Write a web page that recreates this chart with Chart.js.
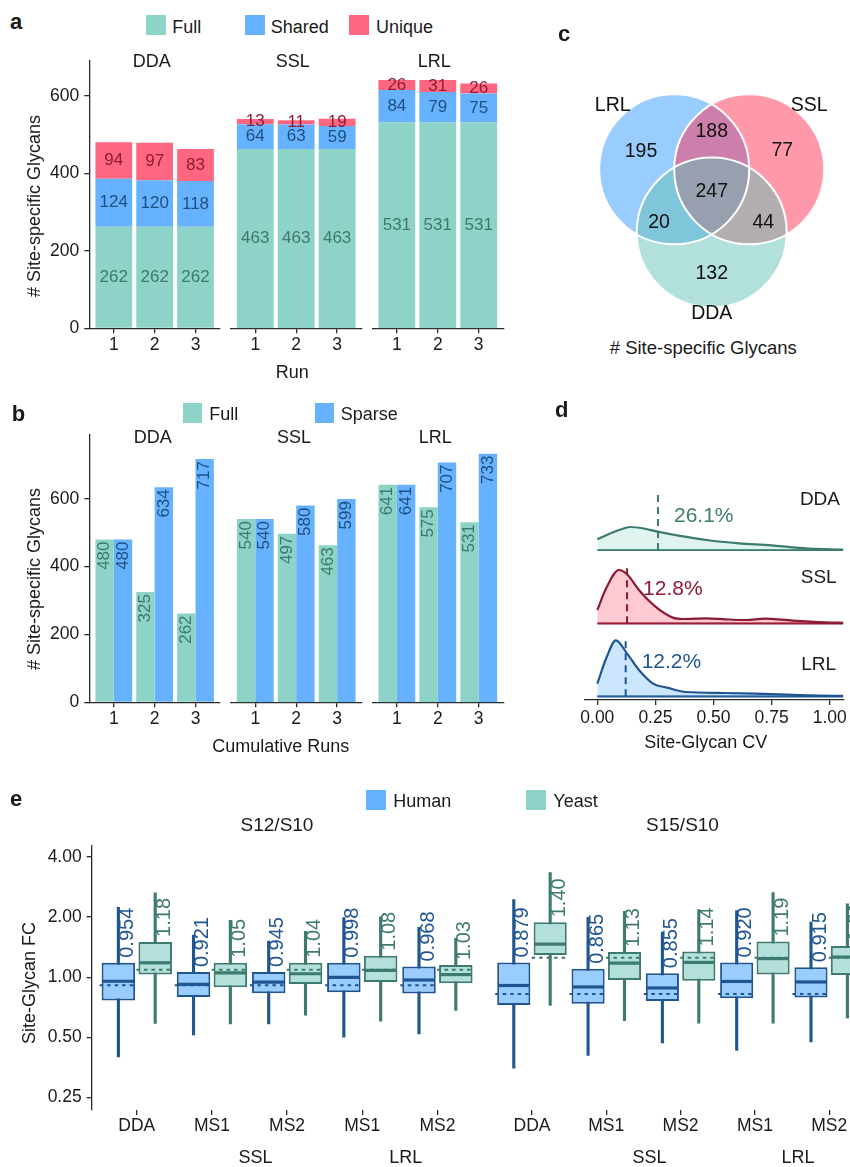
<!DOCTYPE html>
<html>
<head>
<meta charset="utf-8">
<title>Site-specific glycan identification and quantification</title>
<script src="https://cdn.jsdelivr.net/npm/chart.js@4.4.1/dist/chart.umd.min.js"></script>
<style>
  html, body { margin: 0; padding: 0; background: #ffffff; }
  body { position: relative; width: 850px; height: 1167px; overflow: hidden;
         font-family: 'Liberation Sans', Arial, Helvetica, sans-serif; }
  canvas { position: absolute; }
</style>
</head>
<body>
<script>
// ======================= DATA =======================
const methods   = ['DDA', 'SSL', 'LRL'];
const runLabels = ['1', '2', '3'];
const countTicks = [0, 200, 400, 600];

// panel a : identifications per run (per method: run1, run2, run3)
const aFull   = [[262, 262, 262], [463, 463, 463], [531, 531, 531]];
const aShared = [[124, 120, 118], [64, 63, 59], [84, 79, 75]];
const aUnique = [[94, 97, 83], [13, 11, 19], [26, 31, 26]];

// panel b : cumulative runs
const bFull   = [[480, 325, 262], [540, 497, 463], [641, 575, 531]];
const bSparse = [[480, 634, 717], [540, 580, 599], [641, 707, 733]];

// panel c : Venn diagram
const vennSets   = ['LRL', 'SSL', 'DDA'];
const vennRegions = ['LRL only', 'LRL & SSL', 'SSL only', 'all three', 'LRL & DDA', 'SSL & DDA', 'DDA only'];
const vennCounts = [195, 188, 77, 247, 20, 44, 132];

// panel d : CV density ridges
const ridgeNames = ['DDA', 'SSL', 'LRL'];
const cvTicks = [0, 0.25, 0.5, 0.75, 1.0];
const ddaCv      = [0, 0.05, 0.1, 0.14, 0.2, 0.26, 0.35, 0.47, 0.61, 0.75, 0.84, 0.92, 1.0, 1.06];
const ddaDensity = [1.07, 1.6, 2.05, 2.3, 2.15, 1.83, 1.43, 1.0, 0.67, 0.47, 0.27, 0.13, 0.07, 0.04];
const sslCv      = [0, 0.04, 0.093, 0.128, 0.18, 0.25, 0.325, 0.37, 0.47, 0.55, 0.64, 0.72, 0.84, 0.98, 1.06];
const sslDensity = [1.33, 3.6, 5.33, 4.9, 3.3, 1.67, 0.57, 0.43, 0.5, 0.4, 0.33, 0.47, 0.27, 0.1, 0.05];
const lrlCv      = [0, 0.04, 0.08, 0.128, 0.18, 0.24, 0.3, 0.38, 0.55, 0.68, 0.9, 1.06];
const lrlDensity = [1.27, 3.9, 5.6, 4.27, 2.6, 1.27, 0.87, 0.43, 0.33, 0.27, 0.1, 0.04];
const cvMedians  = [0.261, 0.128, 0.122];

// panel e : fold-change boxplots (per ratio: DDA, SSL-MS1, SSL-MS2, LRL-MS1, LRL-MS2)
const ratios  = ['S12/S10', 'S15/S10'];
const eCats   = ['DDA', 'MS1', 'MS2', 'MS1', 'MS2'];
const eGroups = ['SSL', 'LRL'];
const fcTicks = [0.25, 0.5, 1, 2, 4];
const humanLow  = [[0.398, 0.513, 0.581, 0.500, 0.519], [0.346, 0.399, 0.459, 0.422, 0.464]];
const humanQ1   = [[0.764, 0.796, 0.832, 0.841, 0.829], [0.706, 0.716, 0.738, 0.761, 0.769]];
const humanMed  = [[0.954, 0.921, 0.945, 0.998, 0.968], [0.879, 0.865, 0.855, 0.920, 0.915]];
const humanQ3   = [[1.18, 1.06, 1.06, 1.18, 1.13], [1.14, 1.06, 1.01, 1.14, 1.08]];
const humanHigh = [[2.24, 1.63, 1.52, 1.99, 1.78], [2.32, 1.90, 1.61, 2.05, 1.80]];
const yeastLow  = [[0.585, 0.581, 0.643, 0.601, 0.680], [0.700, 0.590, 0.574, 0.574, 0.608]];
const yeastQ1   = [[1.03, 0.890, 0.924, 0.945, 0.931], [1.24, 0.935, 0.928, 0.996, 0.989]];
const yeastMed  = [[1.18, 1.05, 1.04, 1.08, 1.03], [1.40, 1.13, 1.14, 1.19, 1.21]];
const yeastQ3   = [[1.50, 1.18, 1.18, 1.28, 1.15], [1.79, 1.28, 1.29, 1.44, 1.37]];
const yeastHigh = [[2.65, 1.93, 1.70, 2.01, 1.57], [3.14, 2.03, 2.07, 2.51, 2.21]];
const expectedHuman = [0.91, 0.80];
const expectedYeast = [1.09, 1.20];

// ======================= STYLE =======================
const FONT = "'Liberation Sans', Arial, Helvetica, sans-serif";
const INK = '#1a1a1a', AXC = '#2a2a2a';
const C_FULL = '#8DD3C7', C_SHARED = '#66B2FF', C_UNIQUE = '#FF6680';
const L_FULL = '#3F786E', L_SHARED = '#1E4F82', L_UNIQUE = '#8E1C36';
const HUMAN_FILL = '#99CCFF', HUMAN_LINE = '#1F5591';
const YEAST_FILL = '#B3E0DA', YEAST_LINE = '#3D7A70';
const RIDGE_LINE = ['#3D7A70', '#8B1A32', '#1F5591'];
const RIDGE_FILL = ['rgba(141,211,199,0.28)', 'rgba(255,102,128,0.35)', 'rgba(102,178,255,0.33)'];

Chart.defaults.font.family = FONT;
Chart.defaults.color = INK;
Chart.defaults.animation = false;
Chart.defaults.events = [];
Chart.defaults.plugins.legend.display = false;
Chart.defaults.plugins.tooltip.enabled = false;

// ======================= HELPERS =======================
function addCanvas(left, top, w, h) {
  const c = document.createElement('canvas');
  c.width = w; c.height = h;
  c.style.left = left + 'px'; c.style.top = top + 'px';
  c.style.width = w + 'px'; c.style.height = h + 'px';
  document.body.appendChild(c);
  return c;
}
function addText(str, x, y, o = {}) {
  const d = document.createElement('div');
  d.textContent = str;
  const size = o.size || 18;
  let tf = o.align === 'left' ? 'translate(0,-50%)' : o.align === 'right' ? 'translate(-100%,-50%)' : 'translate(-50%,-50%)';
  if (o.rot) tf += ' rotate(' + o.rot + 'deg)';
  d.style.cssText = 'position:absolute;left:' + x + 'px;top:' + y + 'px;font-size:' + size +
    'px;line-height:1;white-space:nowrap;color:' + (o.color || INK) + ';font-weight:' + (o.weight || 'normal') +
    ';transform:' + tf + ';font-family:' + FONT + ';';
  document.body.appendChild(d);
}
function addSquare(x, y, s, color) {
  const d = document.createElement('div');
  d.style.cssText = 'position:absolute;left:' + x + 'px;top:' + y + 'px;width:' + s + 'px;height:' + s + 'px;background:' + color + ';';
  document.body.appendChild(d);
}
function tickGrid() {
  return { display: true, drawOnChartArea: false, drawTicks: true, tickLength: 5, color: AXC, tickColor: AXC, lineWidth: 1.3, tickWidth: 1.3, offset: false };
}

// ---------- faceted bar chart (panels a, b) ----------
function facetBarChart(o) {
  const cl = o.withY ? 0 : Math.floor(o.left - 4);
  const cr = Math.ceil(o.right + 3);
  const canvas = addCanvas(cl, o.canvasTop, cr - cl, o.canvasBottom - o.canvasTop);
  const yW = o.left - cl;
  const yScale = {
    display: o.withY, min: 0, max: o.yMax, stacked: o.stacked,
    afterBuildTicks: s => { s.ticks = countTicks.map(v => ({ value: v })); },
    ticks: { font: { size: 17.5 }, color: INK, padding: 5 },
    grid: tickGrid(),
    border: { display: true, color: AXC, width: 1.3 }
  };
  if (o.withY) yScale.afterFit = s => { s.width = yW; };
  return new Chart(canvas, {
    type: 'bar',
    data: { datasets: o.datasets },
    options: {
      responsive: false,
      layout: { autoPadding: false, padding: { left: o.withY ? 0 : yW, right: cr - o.right, top: o.top - o.canvasTop, bottom: 0 } },
      datasets: { bar: { categoryPercentage: o.catPct, barPercentage: o.barPct } },
      scales: {
        x: {
          type: 'linear', min: 0.4, max: 3.6, offset: false, stacked: o.stacked,
          afterBuildTicks: s => { s.ticks = runLabels.map((_, i) => ({ value: i + 1 })); },
          afterFit: s => { s.height = o.canvasBottom - o.bottom; },
          ticks: { callback: v => runLabels[v - 1], font: { size: 17.5 }, color: INK, padding: 1, maxRotation: 0, autoSkip: false },
          grid: tickGrid(),
          border: { display: true, color: AXC, width: 1.3 }
        },
        y: yScale
      }
    },
    plugins: [o.labelPlugin]
  });
}

const stackLabels = colors => ({
  id: 'stackLabels',
  afterDatasetsDraw(chart) {
    const ctx = chart.ctx;
    ctx.save();
    ctx.font = '17px ' + FONT; ctx.textAlign = 'center'; ctx.textBaseline = 'middle';
    chart.data.datasets.forEach((ds, di) => {
      chart.getDatasetMeta(di).data.forEach((el, i) => {
        ctx.fillStyle = colors[di];
        ctx.fillText(String(ds.data[i].y), el.x, (el.y + el.base) / 2);
      });
    });
    ctx.restore();
  }
});
const rotatedLabels = colors => ({
  id: 'rotatedLabels',
  afterDatasetsDraw(chart) {
    const ctx = chart.ctx;
    chart.data.datasets.forEach((ds, di) => {
      chart.getDatasetMeta(di).data.forEach((el, i) => {
        ctx.save();
        ctx.translate(el.x, el.y + 2);
        ctx.rotate(-Math.PI / 2);
        ctx.font = '17px ' + FONT; ctx.textAlign = 'right'; ctx.textBaseline = 'middle';
        ctx.fillStyle = colors[di];
        ctx.fillText(String(ds.data[i].y), 0, 0);
        ctx.restore();
      });
    });
  }
});

const facetLeft  = [89.3, 230.7, 372.3];
const facetRight = [220, 361.7, 503.3];

// ======================= PANEL A =======================
methods.forEach((m, k) => {
  const pts = arr => arr[k].map((v, i) => ({ x: i + 1, y: v }));
  facetBarChart({
    left: facetLeft[k], right: facetRight[k], top: 61, bottom: 328.3,
    canvasTop: 40, canvasBottom: 386, withY: k === 0, yMax: 690, stacked: true,
    catPct: 1.0, barPct: 0.9,
    datasets: [
      { label: 'Full',   data: pts(aFull),   backgroundColor: C_FULL },
      { label: 'Shared', data: pts(aShared), backgroundColor: C_SHARED },
      { label: 'Unique', data: pts(aUnique), backgroundColor: C_UNIQUE }
    ],
    labelPlugin: stackLabels([L_FULL, L_SHARED, L_UNIQUE])
  });
});
addText('a', 10, 21.7, { size: 22, weight: 'bold', align: 'left' });
addSquare(146, 15, 19.7, C_FULL);   addText('Full',   172.3, 26.5, { align: 'left' });
addSquare(245, 15, 19.7, C_SHARED); addText('Shared', 270.7, 26.5, { align: 'left' });
addSquare(349.3, 15, 19.7, C_UNIQUE); addText('Unique', 376, 26.5, { align: 'left' });
[151.7, 292.7, 434.3].forEach((x, k) => addText(methods[k], x, 61));
addText('# Site-specific Glycans', 34, 205.8, { rot: -90 });
addText('Run', 292.3, 371.7);

// ======================= PANEL B =======================
methods.forEach((m, k) => {
  const pts = arr => arr[k].map((v, i) => ({ x: i + 1, y: v }));
  facetBarChart({
    left: facetLeft[k], right: facetRight[k], top: 435, bottom: 702.3,
    canvasTop: 414, canvasBottom: 760, withY: k === 0, yMax: 788, stacked: false,
    catPct: 0.9, barPct: 1.0,
    datasets: [
      { label: 'Full',   data: pts(bFull),   backgroundColor: C_FULL },
      { label: 'Sparse', data: pts(bSparse), backgroundColor: C_SHARED }
    ],
    labelPlugin: rotatedLabels([L_FULL, L_SHARED])
  });
});
addText('b', 11.7, 414, { size: 22, weight: 'bold', align: 'left' });
addSquare(183, 403.3, 19.3, C_FULL);   addText('Full',   209.3, 414, { align: 'left' });
addSquare(314.7, 403.3, 19.3, C_SHARED); addText('Sparse', 340.7, 414, { align: 'left' });
[152.7, 294, 435.3].forEach((x, k) => addText(methods[k], x, 436.7));
addText('# Site-specific Glycans', 34, 579, { rot: -90 });
addText('Cumulative Runs', 280.8, 746);

// ======================= PANEL C (Venn) =======================
const vennCx = [-0.5, 0.5, 0];
const vennCy = [0.421, 0.421, -0.421];
const vennRadius = 1;
const V_XMIN = -2.023, V_XMAX = 1.844, V_YMIN = -1.721, V_YMAX = 2.145, V_W = 290, V_H = 290;
const vennRadiusPx = vennRadius * V_W / (V_XMAX - V_XMIN);
const vennFill = ['rgba(51,153,255,0.5)', 'rgba(255,51,85,0.5)', 'rgba(101,193,181,0.5)'];
const regionPos = [[-0.943, 0.656], [0, 0.923], [0.941, 0.669], [0, 0.123], [-0.703, -0.291], [0.688, -0.291], [0, -0.975]];
const setLabelPos = [[-1.32, 1.265], [1.301, 1.265], [0, -1.499]];
const vennLabels = {
  id: 'vennLabels',
  afterDatasetsDraw(chart) {
    const { ctx, scales: { x, y } } = chart;
    ctx.save();
    ctx.fillStyle = '#111'; ctx.font = '19.5px ' + FONT; ctx.textAlign = 'center'; ctx.textBaseline = 'middle';
    vennCounts.forEach((n, i) => ctx.fillText(String(n), x.getPixelForValue(regionPos[i][0]), y.getPixelForValue(regionPos[i][1])));
    vennSets.forEach((s, i) => ctx.fillText(s, x.getPixelForValue(setLabelPos[i][0]), y.getPixelForValue(setLabelPos[i][1])));
    ctx.restore();
  }
};
new Chart(addCanvas(560, 40, V_W, V_H), {
  type: 'scatter',
  data: {
    datasets: vennSets.map((s, i) => ({
      label: s, data: [{ x: vennCx[i], y: vennCy[i] }], showLine: false,
      pointRadius: vennRadiusPx, pointBackgroundColor: vennFill[i], pointBorderWidth: 0,
      pointBorderColor: 'rgba(0,0,0,0)', order: 3 - i, clip: false
    })).concat(vennSets.map((s, i) => ({
      label: s + ' outline', data: [{ x: vennCx[i], y: vennCy[i] }], showLine: false,
      pointRadius: vennRadiusPx, pointBackgroundColor: 'rgba(0,0,0,0)',
      pointBorderColor: '#ffffff', pointBorderWidth: 2, order: 0, clip: false
    })))
  },
  options: {
    responsive: false,
    layout: { autoPadding: false, padding: 0 },
    scales: {
      x: { type: 'linear', display: false, min: V_XMIN, max: V_XMAX },
      y: { type: 'linear', display: false, min: V_YMIN, max: V_YMAX }
    }
  },
  plugins: [vennLabels]
});
addText('c', 558, 34, { size: 22, weight: 'bold', align: 'left' });
addText('# Site-specific Glycans', 703.3, 348.3, { size: 18.5 });

// ======================= PANEL D (ridges) =======================
const RIDGE_BASE = [150, 76.7, 3.7];
const RIDGE_SCALE = 10;
const ridgeCv = [ddaCv, sslCv, lrlCv];
const ridgeDensity = [ddaDensity, sslDensity, lrlDensity];
const ridgeDatasets = [];
ridgeNames.forEach((name, i) => {
  ridgeDatasets.push({
    label: name,
    data: ridgeCv[i].map((c, j) => ({ x: c, y: RIDGE_BASE[i] + ridgeDensity[i][j] * RIDGE_SCALE })),
    fill: { value: RIDGE_BASE[i] }, backgroundColor: RIDGE_FILL[i], borderColor: RIDGE_LINE[i],
    borderWidth: 2.2, pointRadius: 0, cubicInterpolationMode: 'monotone'
  });
  ridgeDatasets.push({
    label: name + ' baseline',
    data: [{ x: 0, y: RIDGE_BASE[i] }, { x: 1.06, y: RIDGE_BASE[i] }],
    fill: false, borderColor: RIDGE_LINE[i], borderWidth: 2.2, pointRadius: 0
  });
});
const ridgeMarks = {
  id: 'ridgeMarks',
  afterDatasetsDraw(chart) {
    const { ctx, scales: { x, y } } = chart;
    ctx.save();
    ridgeNames.forEach((name, i) => {
      const px = x.getPixelForValue(cvMedians[i]);
      ctx.strokeStyle = RIDGE_LINE[i]; ctx.lineWidth = 2; ctx.setLineDash([7, 5]);
      ctx.beginPath();
      ctx.moveTo(px, y.getPixelForValue(RIDGE_BASE[i]));
      ctx.lineTo(px, y.getPixelForValue(RIDGE_BASE[i] + 55));
      ctx.stroke();
      ctx.setLineDash([]);
      ctx.fillStyle = RIDGE_LINE[i]; ctx.font = '21px ' + FONT; ctx.textAlign = 'left'; ctx.textBaseline = 'middle';
      ctx.fillText((cvMedians[i] * 100).toFixed(1) + '%', px + 16, y.getPixelForValue(RIDGE_BASE[i] + 34));
    });
    ctx.restore();
  }
};
new Chart(addCanvas(560, 440, 290, 320), {
  type: 'line',
  data: { datasets: ridgeDatasets },
  options: {
    responsive: false,
    layout: { autoPadding: false, padding: { left: 25, right: 5, top: 30, bottom: 0 } },
    scales: {
      x: {
        type: 'linear', min: -0.053, max: 1.058,
        afterBuildTicks: s => { s.ticks = cvTicks.map(v => ({ value: v })); },
        afterFit: s => { s.height = 60; },
        ticks: { callback: v => Number(v).toFixed(2), font: { size: 17.5 }, color: INK, padding: 3, maxRotation: 0, autoSkip: false },
        grid: tickGrid(),
        border: { display: true, color: AXC, width: 1.3 }
      },
      y: { display: false, min: 0, max: 230 }
    }
  },
  plugins: [ridgeMarks]
});
addText('d', 555, 410.4, { size: 22, weight: 'bold', align: 'left' });
addText('DDA', 840, 498.3, { size: 19, align: 'right' });
addText('SSL', 836.7, 575.7, { size: 19, align: 'right' });
addText('LRL', 836, 662.7, { size: 19, align: 'right' });
addText('Site-Glycan CV', 705.8, 741.7);

// ======================= PANEL E (boxplots) =======================
const boxExtras = f => ({
  id: 'boxExtras',
  afterDatasetsDraw(chart) {
    const { ctx, scales: { y } } = chart;
    const series = [
      [0, humanMed[f], humanQ3[f], expectedHuman[f], HUMAN_LINE],
      [1, yeastMed[f], yeastQ3[f], expectedYeast[f], YEAST_LINE]
    ];
    series.forEach(([di, med, q3, exp, color]) => {
      chart.getDatasetMeta(di).data.forEach((el, i) => {
        const half = el.width / 2;
        ctx.save();
        ctx.strokeStyle = color;
        ctx.lineWidth = 3.2;
        const ym = y.getPixelForValue(med[i]);
        ctx.beginPath(); ctx.moveTo(el.x - half + 1, ym); ctx.lineTo(el.x + half - 1, ym); ctx.stroke();
        ctx.lineWidth = 2; ctx.setLineDash([3.5, 4]);
        const ye = y.getPixelForValue(exp);
        ctx.beginPath(); ctx.moveTo(el.x - half - 2, ye); ctx.lineTo(el.x + half, ye); ctx.stroke();
        ctx.setLineDash([]);
        ctx.translate(el.x + 9, y.getPixelForValue(q3[i]) - 5);
        ctx.rotate(-Math.PI / 2);
        ctx.fillStyle = color; ctx.font = '20px ' + FONT; ctx.textAlign = 'left'; ctx.textBaseline = 'middle';
        ctx.fillText(med[i].toPrecision(3), 0, 0);
        ctx.restore();
      });
    });
  }
});
const eGroupSpan = [[2, 3], [4, 5]];
const groupLabels = {
  id: 'groupLabels',
  afterDraw(chart) {
    const { ctx, scales: { x } } = chart;
    ctx.save();
    ctx.font = '18px ' + FONT; ctx.fillStyle = INK; ctx.textAlign = 'center'; ctx.textBaseline = 'middle';
    eGroups.forEach((g, k) => {
      const px = (x.getPixelForValue(eGroupSpan[k][0]) + x.getPixelForValue(eGroupSpan[k][1])) / 2 + 6;
      ctx.fillText(g, px, 1158 - 830);
    });
    ctx.restore();
  }
};
function boxChart(f, o) {
  const canvas = addCanvas(o.cl, 830, o.cw, 337);
  const box = (label, stack, q1, q3, fill, line) => ({
    label, stack, data: eCats.map((_, i) => ({ x: i + 1, y: [q1[f][i], q3[f][i]] })),
    backgroundColor: fill, borderColor: line, borderWidth: 2, borderSkipped: false, barPercentage: 0.91
  });
  const whisker = (label, stack, lo, hi, line) => ({
    label, stack, data: eCats.map((_, i) => ({ x: i + 1, y: [lo[f][i], hi[f][i]] })),
    backgroundColor: line, borderWidth: 0, barPercentage: 0.085
  });
  const yScale = {
    type: 'logarithmic', display: o.withY, min: 0.2168, max: 4.55, stacked: false,
    afterBuildTicks: s => { s.ticks = fcTicks.map(v => ({ value: v })); },
    ticks: { callback: v => Number(v).toFixed(2), font: { size: 17.5 }, color: INK, padding: 5 },
    grid: tickGrid(),
    border: { display: true, color: AXC, width: 1.3 }
  };
  if (o.withY) yScale.afterFit = s => { s.width = o.yW; };
  return new Chart(canvas, {
    type: 'bar',
    data: {
      datasets: [
        box('Human', 'human', humanQ1, humanQ3, HUMAN_FILL, HUMAN_LINE),
        box('Yeast', 'yeast', yeastQ1, yeastQ3, YEAST_FILL, YEAST_LINE),
        whisker('Human range', 'human', humanLow, humanHigh, HUMAN_LINE),
        whisker('Yeast range', 'yeast', yeastLow, yeastHigh, YEAST_LINE)
      ]
    },
    options: {
      responsive: false,
      layout: { autoPadding: false, padding: { left: o.padLeft, right: o.padRight, top: 839.3 - 830, bottom: 0 } },
      datasets: { bar: { categoryPercentage: 0.98 } },
      scales: {
        x: {
          type: 'linear', min: 0.4, max: o.xMax, offset: false,
          afterBuildTicks: s => { s.ticks = eCats.map((_, i) => ({ value: i + 1 })); },
          afterFit: s => { s.height = 1167 - 1110; },
          ticks: { callback: v => eCats[v - 1], font: { size: 17.5 }, color: INK, padding: 1, maxRotation: 0, autoSkip: false },
          grid: tickGrid(),
          border: { display: false }
        },
        y: yScale
      }
    },
    plugins: [boxExtras(f), groupLabels]
  });
}
boxChart(0, { cl: 0, cw: 483, withY: true, yW: 91.7, padLeft: 0, padRight: 0.5, xMax: 5.6 });
boxChart(1, { cl: 483, cw: 367, withY: false, padLeft: 4.4, padRight: 0, xMax: 5.28 });
addText('e', 10, 799, { size: 22, weight: 'bold', align: 'left' });
addSquare(366, 790, 19.7, C_SHARED); addText('Human', 393.3, 801, { align: 'left' });
addSquare(526, 790, 19.7, C_FULL);   addText('Yeast', 553.3, 801, { align: 'left' });
addText(ratios[0], 277, 824.3, { size: 19 });
addText(ratios[1], 682.5, 824.3, { size: 19 });
addText('Site-Glycan FC', 29, 983.3, { rot: -90 });
</script>
</body>
</html>
